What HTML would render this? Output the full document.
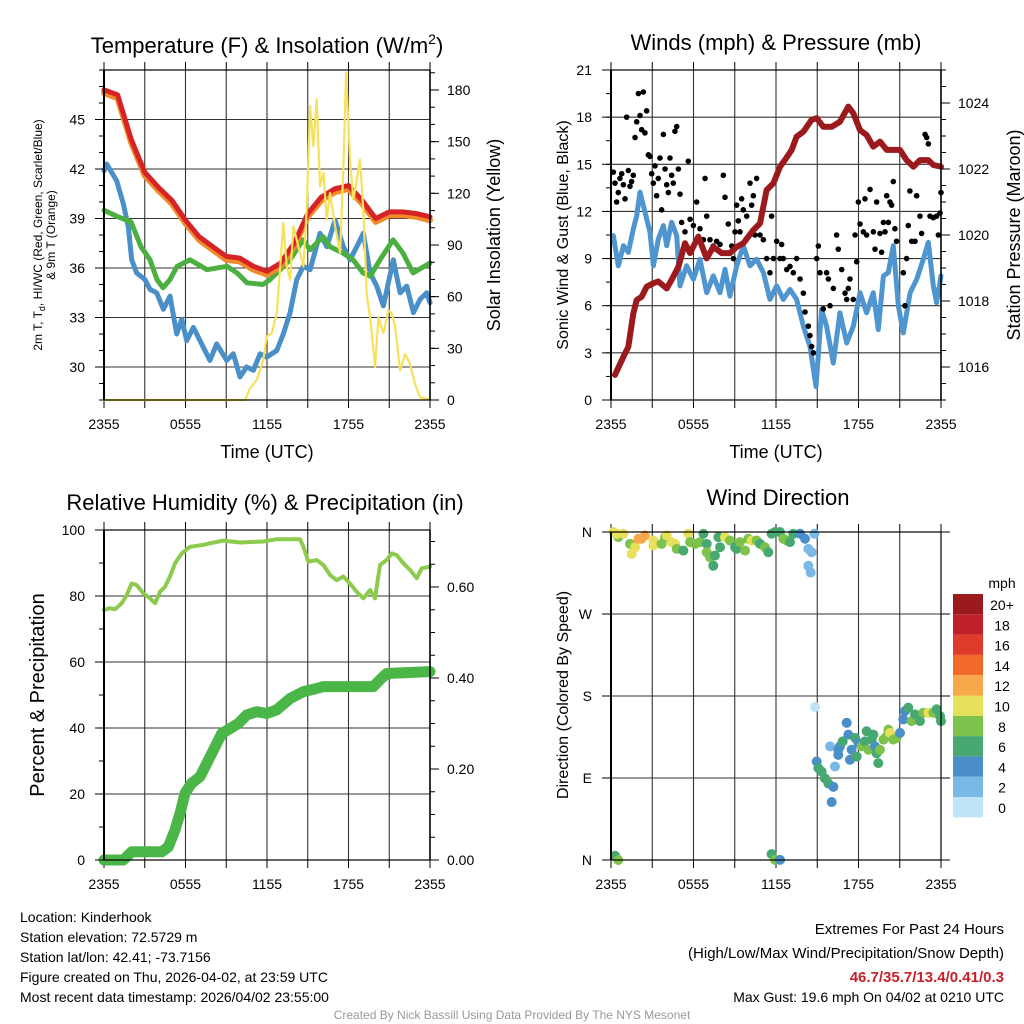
<!DOCTYPE html>
<html><head><meta charset="utf-8"><style>
body{margin:0;background:#fff}
svg{display:block;font-family:"Liberation Sans",Arial,sans-serif}
</style></head><body>
<svg id="fig" width="1024" height="1024" viewBox="0 0 1024 1024" xmlns="http://www.w3.org/2000/svg">
<rect width="1024" height="1024" fill="#fff"/>
<g id="layer"></g>
<text x="267" y="53" font-size="22" text-anchor="middle">Temperature (F) &amp; Insolation (W/m<tspan font-size="14" dy="-9">2</tspan><tspan dy="9">)</tspan></text>
<text x="776" y="50" font-size="22" text-anchor="middle">Winds (mph) &amp; Pressure (mb)</text>
<text x="265" y="510" font-size="22" text-anchor="middle">Relative Humidity (%) &amp; Precipitation (in)</text>
<text x="778" y="505" font-size="22" text-anchor="middle">Wind Direction</text>
<text x="267" y="458" font-size="18" text-anchor="middle">Time (UTC)</text>
<text x="776" y="458" font-size="18" text-anchor="middle">Time (UTC)</text>
<text transform="translate(42,235) rotate(-90)" font-size="12" text-anchor="middle">2m T, T<tspan font-size="9" dy="3">d</tspan><tspan dy="-3">, HI/WC (Red, Green, Scarlet/Blue)</tspan></text>
<text transform="translate(55,235) rotate(-90)" font-size="12" text-anchor="middle">&amp; 9m T (Orange)</text>
<text transform="translate(500,235) rotate(-90)" font-size="18" text-anchor="middle">Solar Insolation (Yellow)</text>
<text transform="translate(568,235) rotate(-90)" font-size="16" text-anchor="middle">Sonic Wind &amp; Gust (Blue, Black)</text>
<text transform="translate(1020,235) rotate(-90)" font-size="18" text-anchor="middle">Station Pressure (Maroon)</text>
<text transform="translate(44,695) rotate(-90)" font-size="20" text-anchor="middle">Percent &amp; Precipitation</text>
<text transform="translate(568,695) rotate(-90)" font-size="16" text-anchor="middle">Direction (Colored By Speed)</text>
<text x="1002" y="588" font-size="14" text-anchor="middle">mph</text>
<g font-size="14">
<text x="20" y="922">Location: Kinderhook</text>
<text x="20" y="942">Station elevation: 72.5729 m</text>
<text x="20" y="962">Station lat/lon: 42.41; -73.7156</text>
<text x="20" y="982">Figure created on Thu, 2026-04-02, at 23:59 UTC</text>
<text x="20" y="1002">Most recent data timestamp: 2026/04/02 23:55:00</text>
</g>
<g font-size="15" text-anchor="end">
<text x="1004" y="934">Extremes For Past 24 Hours</text>
<text x="1004" y="958">(High/Low/Max Wind/Precipitation/Snow Depth)</text>
<text x="1004" y="982" fill="#c8202a" font-weight="bold">46.7/35.7/13.4/0.41/0.3</text>
<text x="1004" y="1002" font-size="14">Max Gust: 19.6 mph On 04/02 at 0210 UTC</text>
</g>
<text x="512" y="1019" font-size="12" fill="#999" text-anchor="middle">Created By Nick Bassill Using Data Provided By The NYS Mesonet</text>
</svg>
<script>
// ---- Panel 1: temperature ----
const tempHours = [0,1,2,3,4,5,6,7,8,9,10,11,12,13,14,15,16,17,18,19,20,21,22,23,24];
const tempRed = [46.8,46.5,43.8,41.8,40.9,40.1,38.9,37.9,37.3,36.7,36.6,36.1,35.8,36.3,37.5,39.3,40.3,40.8,41.0,40.1,39.0,39.4,39.4,39.3,39.1];
const tempOrange = [46.6,46.3,43.6,41.6,40.7,39.9,38.7,37.7,37.1,36.5,36.4,35.9,35.6,36.1,37.3,39.1,40.1,40.6,40.8,39.9,38.8,39.2,39.2,39.1,38.9];
const dewHours = [0,1.03,1.99,2.72,3.39,3.9,4.34,4.86,5.38,6.33,7.58,9.06,9.79,10.53,11.71,12.22,13.7,14.65,15.17,16.13,16.64,17.6,18.34,19.07,19.59,20.32,21.28,22.02,22.75,24];
const dewGreen = [39.5,39.1,38.8,37.3,36.5,35.3,34.8,35.3,36.1,36.5,35.9,36.1,35.7,35.1,35.0,35.3,36.5,37.7,37.1,37.9,37.3,36.9,36.5,35.7,35.5,36.5,37.7,36.9,35.7,36.3];
const wcHours = [0,0.2,0.93,1.42,1.79,2.04,2.4,3.02,3.39,3.88,4.37,4.86,5.35,5.72,6.09,6.58,7.07,7.8,8.3,9.03,9.52,10.01,10.5,11,11.49,11.98,12.72,13.2,13.7,14.19,14.68,15.17,15.9,16.4,17.01,17.62,18.11,18.61,19.09,19.59,20.08,20.57,21.3,21.8,22.29,22.78,23.27,23.76,24];
const wcBlue = [41.9,42.3,41.3,39.9,38.5,36.5,35.7,35.3,34.7,34.5,33.5,34.3,32.0,32.9,31.6,32.4,31.6,30.4,31.4,30.4,30.8,29.4,30.0,29.8,30.8,30.6,31.0,32.0,33.3,35.3,36.1,35.9,38.1,37.3,38.9,37.3,36.5,37.3,38.1,35.7,34.9,33.7,36.5,34.5,34.9,33.3,34.1,34.5,33.9];
const solarHours = [0,10.38,10.75,11.24,11.73,11.98,12.35,12.72,13.08,13.2,13.45,13.7,13.94,14.31,14.68,14.92,15.17,15.41,15.66,15.9,16.15,16.4,16.64,17.01,17.38,17.62,17.82,18.11,18.36,18.61,18.85,19.09,19.34,19.59,19.96,20.2,20.57,20.94,21.18,21.43,21.8,22.17,22.53,22.9,23.27,23.88,24];
const solarYellow = [0,0,6.8,11.6,23.3,36.8,38.8,50.4,89,102.7,77.5,69.8,100.8,89,77.5,110.5,170.5,147.3,174.4,124,131.8,104.7,120.2,100.8,85.3,133.7,189.9,139.5,116.3,128,139.5,110.5,61.6,48.1,19.0,48.1,38.8,52,50.4,42.6,17.1,26.7,21,9.3,1.5,0.6,0.5];
// ---- Panel 2: winds & pressure ----
const presHours = [0.29,0.9,1.26,1.62,1.87,2.23,2.59,3.08,3.44,4.05,4.41,4.9,5.38,5.75,6.35,6.96,7.44,8.05,8.65,9.14,9.62,10.35,10.84,11.32,11.81,12.29,12.65,13.14,13.5,13.99,14.59,14.96,15.44,16.05,16.65,17.26,17.62,18.11,18.59,19.08,19.56,20.05,20.53,21.02,21.5,21.99,22.47,23.08,23.44,24];
const presMb = [1015.76,1016.31,1016.61,1017.62,1018.03,1018.13,1018.43,1018.54,1018.59,1018.38,1018.64,1019.04,1019.75,1019.45,1019.95,1019.29,1019.64,1019.45,1019.45,1019.64,1019.75,1020.15,1020.35,1021.36,1021.57,1022.07,1022.27,1022.58,1022.98,1023.13,1023.49,1023.54,1023.28,1023.28,1023.43,1023.89,1023.69,1023.18,1023.03,1022.68,1022.83,1022.58,1022.58,1022.58,1022.27,1022.07,1022.27,1022.27,1022.12,1022.07];
const windHours = [0.17,0.53,0.9,1.26,1.62,1.87,2.11,2.47,2.84,3.08,3.44,3.81,4.05,4.41,4.78,5.02,5.5,5.99,6.47,6.96,7.44,7.93,8.29,8.65,9.14,9.62,10.11,10.59,11.08,11.56,12.05,12.53,13.02,13.5,13.99,14.47,14.91,15.32,15.68,16.17,16.65,17.14,17.62,18.11,18.59,19.08,19.44,19.81,20.17,20.53,20.9,21.26,21.75,22.23,22.71,23.08,23.44,23.68,24];
const windMph = [10.46,8.54,9.82,9.39,10.88,11.73,13.23,11.95,10.67,8.54,10.24,11.1,9.82,11.31,10.46,7.26,8.54,7.68,8.96,6.83,7.9,6.83,8.32,6.61,8.54,9.82,8.54,8.96,8.11,6.4,7.26,6.4,7.04,6.4,4.69,3.41,0.85,5.76,4.69,2.35,5.55,3.63,4.69,6.83,5.55,6.83,4.48,7.9,8.11,9.82,5.98,4.27,6.83,7.68,8.96,10.03,7.26,6.19,7.9];
const gustHours = [0.17,0.29,0.41,0.53,0.65,0.78,0.9,1.02,1.14,1.26,1.38,1.5,1.62,1.75,1.87,1.99,2.11,2.23,2.35,2.47,2.59,2.72,2.84,2.96,3.08,3.2,3.32,3.44,3.56,3.68,3.81,3.93,4.05,4.17,4.29,4.41,4.53,4.65,4.78,4.9,5.02,5.14,5.38,5.62,5.75,5.99,6.23,6.47,6.72,6.84,6.96,7.2,7.44,7.68,7.93,8.17,8.29,8.53,8.78,8.9,9.02,9.14,9.26,9.38,9.5,9.62,9.87,10.11,10.23,10.35,10.47,10.59,10.84,11.08,11.32,11.56,11.68,11.81,12.05,12.29,12.41,12.53,12.78,13.02,13.26,13.5,13.75,13.99,14.11,14.35,14.47,14.59,14.72,14.96,15.08,15.2,15.44,15.68,15.81,15.93,16.17,16.41,16.53,16.78,17.02,17.14,17.26,17.38,17.62,17.75,17.87,17.99,18.11,18.35,18.47,18.59,18.84,19.08,19.2,19.32,19.56,19.68,19.81,19.93,20.05,20.17,20.29,20.41,20.53,20.65,20.77,21.26,21.38,21.5,21.62,21.74,21.87,22.11,22.23,22.47,22.59,22.84,22.96,23.08,23.2,23.44,23.68,23.81,23.93,24];
const gustMph = [14.5,13.8,12.6,13.2,14.1,14.4,13.7,12.8,18.0,14.6,13.6,13.9,14.3,16.7,17.7,19.5,18.1,17.2,19.6,17.0,18.4,15.6,15.5,14.4,13.8,14.9,13.0,14.1,15.4,12.1,16.9,14.7,13.7,13.2,15.4,14.3,13.8,17.1,17.4,14.7,13.1,11.3,10.7,15.2,11.5,11.1,12.6,10.9,10.2,14.1,11.7,10.2,9.8,10.1,9.9,14.3,12.9,11.2,9.8,9.0,10.7,12.4,11.4,10.7,12.8,12.1,11.7,13.8,12.4,13.0,10.5,14.1,10.5,10.2,9.0,8.1,11.7,9.0,10.1,9.0,9.9,9.0,8.3,8.5,8.1,9.0,7.7,6.8,5.6,4.7,4.1,3.4,3.0,9.0,9.8,8.1,5.8,8.1,7.7,6.0,7.1,10.5,9.6,8.3,6.8,6.4,7.1,7.7,6.4,10.5,8.8,12.6,11.2,10.7,12.8,10.5,13.4,10.7,9.6,12.6,10.6,9.4,11.3,10.7,13.0,11.3,12.6,12.4,13.9,10.9,10.1,8.1,6.0,9.0,11.1,13.3,10.1,10.1,13.0,11.7,10.6,16.9,16.7,16.3,11.7,11.6,11.7,10.5,11.9,13.2];
// ---- Panel 3: humidity & precipitation ----
const rhHours = [0,0.44,0.81,1.3,1.67,2.04,2.41,2.9,3.39,3.76,4.12,4.49,4.86,5.23,5.72,6.33,7.31,7.81,8.79,10.02,11.73,12.71,14.43,14.68,15.05,15.66,16.15,16.64,17.13,17.62,18.11,18.6,19.1,19.59,19.95,20.32,20.81,21.18,21.55,22.04,22.53,23.02,23.39,24];
const rhPct = [75.8,76.3,76.0,77.8,80.3,83.8,83.3,80.8,79.3,77.8,81.3,82.8,85.9,89.9,92.9,94.9,95.5,96.0,96.8,96.2,96.5,97.2,97.2,94.9,90.4,90.9,89.4,86.4,84.8,85.9,83.8,81.3,79.3,81.8,79.3,89.4,90.9,92.9,92.4,89.9,87.9,85.4,88.4,88.9];
const precipHours = [0,1.42,2.04,4.25,4.74,5.23,5.6,5.97,6.46,7.07,7.81,8.67,9.28,9.89,10.51,11.24,11.98,12.71,13.7,14.68,15.66,16.15,19.83,20.32,20.81,24];
const precipIn = [0,0,0.018,0.018,0.029,0.066,0.103,0.147,0.169,0.183,0.227,0.278,0.289,0.3,0.319,0.326,0.322,0.33,0.355,0.37,0.377,0.381,0.381,0.396,0.41,0.414];
// ---- Panel 4: wind direction ----
const dirHours = [0.17,0.53,0.41,0.9,1.38,1.5,1.75,1.99,2.23,2.47,3.08,3.08,3.68,3.93,4.05,4.41,4.65,4.78,5.26,5.62,5.75,6.11,6.47,6.72,6.96,6.96,7.2,7.44,7.56,7.81,7.93,8.29,8.65,9.02,9.14,9.38,9.75,9.99,10.23,10.59,10.84,11.2,11.44,11.68,11.93,12.29,12.53,12.78,13.02,13.26,13.75,14.11,14.35,14.59,14.35,14.52,14.79,0.29,0.53,11.68,11.93,12.29,14.84,14.96,15.08,15.32,15.56,15.81,15.93,16.17,16.05,16.29,16.53,16.53,16.65,16.85,17.14,17.26,17.38,17.5,17.75,17.87,17.99,18.23,18.47,18.59,18.72,18.96,19.08,19.2,19.32,19.44,19.56,19.81,20.05,20.17,20.29,20.53,20.77,21.02,21.26,21.38,21.62,21.87,22.11,22.47,22.71,23.08,23.44,23.68,23.93,24];
const dirDeg = [360,354.4,358,358.1,347,335.9,343.3,352.6,352.6,356.3,350.7,345.2,347,354.4,356.3,348.9,347,341.5,339.6,358.1,348.9,347,348.9,358.1,347,337.8,332.2,322.9,334.1,354.4,343.3,354.4,350.7,343.3,341.5,348.9,339.6,352.6,350.7,350.7,347,343.3,337.8,358.1,360,360,352.6,350.7,348.9,358.1,358.1,352.6,341.5,337.8,322.9,315.5,358.1,4.6,0,6.5,0.2,0.2,168,108.1,100.7,97,89.6,84,124.7,80.3,63.6,102.6,115.4,121,124.7,130.2,150.6,137.6,110,121,134,113.5,128.4,124.7,130.2,141.3,121,132.1,137.6,124.7,117.1,106.3,121,132.1,135.8,143.1,139.5,132.1,134,139.5,154.3,163.5,167.2,152.4,159.8,152.4,161.6,161.6,161.6,165.4,157.9,152.4];
const dirSpeed = [10,8,10,10,8,10,10,12,12,12,10,10,8,8,10,10,10,8,6,10,8,8,8,6,6,8,8,6,6,6,6,10,8,6,6,8,8,8,10,8,6,8,6,6,6,6,8,8,6,6,4,4,2,2,2,2,2,6,8,6,8,4,0,4,6,6,6,6,2,4,4,2,4,4,4,6,4,4,4,4,6,6,4,8,6,6,8,6,6,4,6,6,8,8,8,8,10,8,8,4,4,4,6,8,6,6,8,10,8,6,6,6];
const cbLabels = ["0","2","4","6","8","10","12","14","16","18","20+"];
const cbColors = ["#bfe3f7","#7ab8e6","#4a8fc8","#48a872","#7dc24a","#e6e05a","#f8a84a","#f26a2a","#e03a2c","#c0202a","#9b1a1e"];
const xTickLabels = ["2355","0555","1155","1755","2355"];
const tempTicks = [30,33,36,39,42,45];
const solarTicks = [0,30,60,90,120,150,180];
const windTicks = [0,3,6,9,12,15,18,21];
const presTicks = [1016,1018,1020,1022,1024];
const rhTicks = [0,20,40,60,80,100];
const precipTicks = [0.00,0.20,0.40,0.60];
const dirTickLabels = ["N","E","S","W","N"];
const dirTicks = [0,90,180,270,360];

const NS="http://www.w3.org/2000/svg";
const layer=document.getElementById('layer');
function mk(tag,attrs,parent){const e=document.createElementNS(NS,tag);for(const k in attrs)e.setAttribute(k,attrs[k]);(parent||layer).appendChild(e);return e;}
function lin(d0,d1,r0,r1){return v=>r0+(v-d0)*(r1-r0)/(d1-d0);}

function panel(P,name){
  const g=mk('g',{});
  
  
  const grid=mk('g',{stroke:'#333','stroke-width':1.1},g);
  
  
  for(let h=3;h<24;h+=3){const x=P.sx(h);mk('line',{x1:x,x2:x,y1:P.y0,y2:P.y1},grid);}
  P.gridY.forEach(v=>{const y=P.sy(v);if(y>P.y0+1&&y<P.y1-1)mk('line',{x1:P.x0,x2:P.x1,y1:y,y2:y},grid);});
  // x ticks top/bottom
  for(let h=0;h<=24;h+=3){const x=P.sx(h);mk('line',{x1:x,x2:x,y1:P.y0-8,y2:P.y0,stroke:'#000'},g);mk('line',{x1:x,x2:x,y1:P.y1,y2:P.y1+8,stroke:'#000'},g);}
  xTickLabels.forEach((t,i)=>{
    const tx=mk('text',{x:P.sx(i*6),y:P.y1+29,'font-size':14,'text-anchor':'middle'},g);tx.textContent=t;
    
    
  });
  return g;
}
function leftAxis(P,g,ticks,minorStep,min,max,fmt,name){
  mk('line',{x1:P.x0,x2:P.x0,y1:P.y0,y2:P.y1,stroke:'#000','stroke-width':2},g);
  for(let v=min;v<=max+1e-9;v+=minorStep){const y=P.sy(v);mk('line',{x1:P.x0-5,x2:P.x0,y1:y,y2:y,stroke:'#000'},g);}
  ticks.forEach((v,i)=>{const y=P.sy(v);mk('line',{x1:P.x0-9,x2:P.x0,y1:y,y2:y,stroke:'#000'},g);
    const t=mk('text',{x:P.x0-19,y:y+5,'font-size':14,'text-anchor':'end'},g);t.textContent=fmt(v,i);
    
    });
}
function rightAxis(P,g,sy,ticks,minorStep,min,max,fmt,name){
  mk('line',{x1:P.x1,x2:P.x1,y1:P.y0,y2:P.y1,stroke:'#000','stroke-width':1.5},g);
  for(let v=min;v<=max+1e-9;v+=minorStep){const y=sy(v);if(y>=P.y0-0.5)mk('line',{x1:P.x1,x2:P.x1+5,y1:y,y2:y,stroke:'#000'},g);}
  ticks.forEach(v=>{const y=sy(v);mk('line',{x1:P.x1,x2:P.x1+9,y1:y,y2:y,stroke:'#000'},g);
    const t=mk('text',{x:P.x1+17,y:y+5,'font-size':14},g);t.textContent=fmt(v);
    
    });
}
function series(hours,vals,sx,sy,color,w,name,parent){
  const pts=hours.map((h,i)=>sx(h).toFixed(1)+','+sy(vals[i]).toFixed(1)).join(' ');
  const p=mk('polyline',{points:pts,fill:'none',stroke:color,'stroke-width':w,'stroke-linejoin':'round','stroke-linecap':'round'},parent);
  
  
  return p;
}
function frame(P,g){mk('rect',{x:P.x0,y:P.y0,width:P.x1-P.x0,height:P.y1-P.y0,fill:'none',stroke:'#000','stroke-width':1.2},g);}

// Panel 1
const P1={x0:104,x1:430,y0:70,y1:400};P1.sx=lin(0,24,P1.x0,P1.x1);P1.sy=lin(28,48,P1.y1,P1.y0);P1.gridY=tempTicks;
const g1=panel(P1,'temperature');
const sy1r=lin(0,191.6,P1.y1,P1.y0);
series(wcHours,wcBlue,P1.sx,P1.sy,'#4a8fc8',5,'heat-index-windchill-line',g1);
series(dewHours,dewGreen,P1.sx,P1.sy,'#4cb040',5,'dewpoint-line',g1);
series(tempHours,tempOrange,P1.sx,P1.sy,'#f08a2a',6,'temp-9m-line',g1);
series(tempHours,tempRed,P1.sx,P1.sy,'#d62426',5,'temp-2m-line',g1);
series(solarHours,solarYellow,P1.sx,sy1r,'#f7e15a',2.2,'solar-insolation-line',g1);
frame(P1,g1);
leftAxis(P1,g1,tempTicks,1,28,48,v=>v,'temperature-y');
rightAxis(P1,g1,sy1r,solarTicks,10,0,190,v=>v,'insolation-y');

// Panel 2
const P2={x0:611,x1:941,y0:70,y1:400};P2.sx=lin(0,24,P2.x0,P2.x1);P2.sy=lin(0,21,P2.y1,P2.y0);P2.gridY=windTicks;
const g2=panel(P2,'winds');
const sy2r=lin(1015,1025,P2.y1,P2.y0);
series(windHours,windMph,P2.sx,P2.sy,'#4f96d0',5,'sonic-wind-line',g2);
const gustG=mk('g',{fill:'#000'},g2);


gustHours.forEach((h,i)=>{const c=mk('circle',{cx:P2.sx(h),cy:P2.sy(gustMph[i]),r:2.8},gustG);
  
  });
series(presHours,presMb,P2.sx,sy2r,'#9b1a1e',6,'pressure-line',g2);
frame(P2,g2);
leftAxis(P2,g2,windTicks,1.5,0,21,v=>v,'wind-y');
rightAxis(P2,g2,sy2r,presTicks,0.5,1015,1025,v=>v,'pressure-y');

// Panel 3
const P3={x0:104,x1:430,y0:530,y1:860};P3.sx=lin(0,24,P3.x0,P3.x1);P3.sy=lin(0,100,P3.y1,P3.y0);P3.gridY=rhTicks;
const g3=panel(P3,'humidity');
const sy3r=lin(0,0.6,P3.y1,587);
series(rhHours,rhPct,P3.sx,P3.sy,'#8dcb4f',4,'relative-humidity-line',g3);
series(precipHours,precipIn,P3.sx,sy3r,'#4ab648',11,'precipitation-line',g3);
frame(P3,g3);
leftAxis(P3,g3,rhTicks,10,0,100,v=>v,'humidity-y');
rightAxis(P3,g3,sy3r,precipTicks,0.05,0,0.72,v=>v.toFixed(2),'precip-y');

// Panel 4
const P4={x0:611,x1:941,y0:532,y1:860};P4.sx=lin(0,24,P4.x0,P4.x1);P4.sy=lin(0,360,P4.y1,P4.y0);P4.gridY=dirTicks;
const g4=panel(P4,'wind-direction');
const dg=mk('g',{},g4);


dirHours.forEach((h,i)=>{
  const idx=Math.max(0,Math.min(10,Math.round(dirSpeed[i]/2)));
  const c=mk('circle',{cx:P4.sx(h),cy:P4.sy(dirDeg[i]),r:5,fill:cbColors[idx]},dg);
  
  
});
frame(P4,g4);
mk('line',{x1:P4.x0,x2:P4.x0,y1:P4.y0,y2:P4.y1,stroke:'#000','stroke-width':2},g4);
dirTicks.forEach((v,i)=>{const y=P4.sy(v);mk('line',{x1:P4.x0-9,x2:P4.x0,y1:y,y2:y,stroke:'#000'},g4);
  mk('line',{x1:P4.x1,x2:P4.x1+9,y1:y,y2:y,stroke:'#000'},g4);
  const t=mk('text',{x:P4.x0-19,y:y+5,'font-size':14,'text-anchor':'end'},g4);t.textContent=dirTickLabels[i];
  
  });
// colorbar
const cb=mk('g',{});


cbColors.forEach((c,i)=>{
  const top=594+(10-i)*20.3;
  const r=mk('rect',{x:953,y:top,width:30,height:20.3,fill:c},cb);
  
  
  const t=mk('text',{x:1002,y:top+16,'font-size':14,'text-anchor':'middle'},cb);t.textContent=cbLabels[i];
  
  
});
</script>
</body></html>
